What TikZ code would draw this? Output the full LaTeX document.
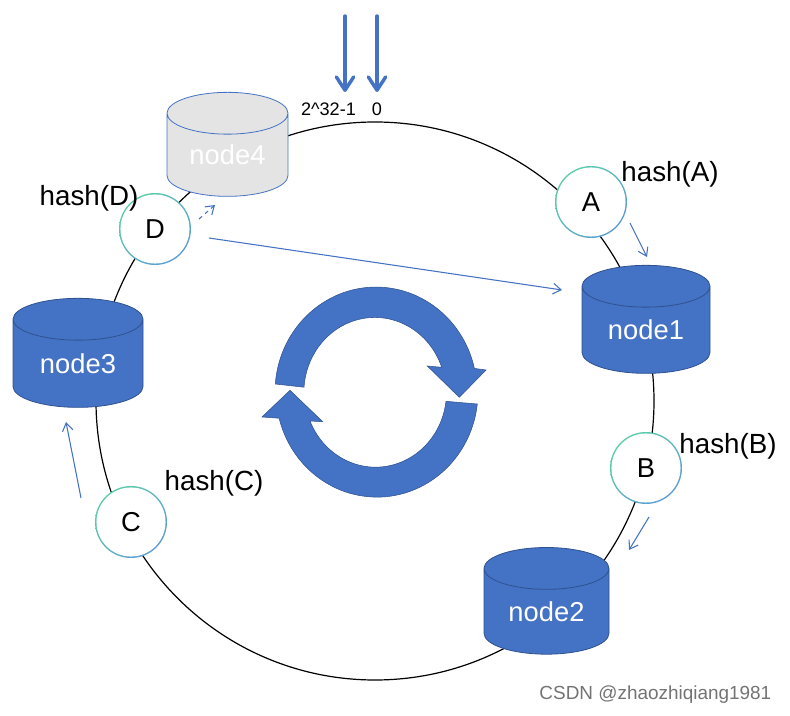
\documentclass[tikz,border=0pt]{standalone}
\usepackage{fontspec}
\setmainfont{Liberation Sans}
\usetikzlibrary{shapes.geometric,arrows.meta}
\definecolor{mblue}{HTML}{4472C4}
\definecolor{mdark}{HTML}{2F528F}
\definecolor{mgray}{HTML}{E4E4E4}
\definecolor{mteal}{HTML}{5CCDA8}
\definecolor{msky}{HTML}{5B9BD5}
\tikzset{
  px/.style={x=0.75pt,y=-0.75pt},
  drum/.style={cylinder,shape border rotate=90,shape aspect=0.55,draw=mdark,line width=0.6pt,fill=mblue,text=white,font=\fontsize{20.5}{24}\selectfont,inner sep=0pt},
  drumgray/.style={drum,draw=mblue,fill=mgray,text=white},
  hashdot/.style={circle,minimum size=54pt,inner sep=0pt,font=\fontsize{20.5}{24}\selectfont,
    path picture={
      \shade[top color=mteal,bottom color=msky,shading angle=45] (path picture bounding box.south west) rectangle (path picture bounding box.north east);
      \fill[white] (path picture bounding box.center) circle (25.9pt);
    }},
  hashlabel/.style={font=\fontsize{20.8}{24}\selectfont,text=black},
  ringline/.style={circle,draw=black,line width=0.9pt,minimum size=418.5pt,inner sep=0pt},
  thin arrow/.style={draw=mblue,line width=0.8pt,-{Straight Barb[length=6pt,width=8pt,line width=0.8pt]}},
  thick arrow/.style={draw=mblue,line width=2.6pt,line cap=round,-{Straight Barb[length=10pt,width=13pt,round]}},
  turn/.style={fill=mblue,draw=mdark,line width=0.4pt},
}
\begin{document}
\begin{tikzpicture}[px]
\useasboundingbox (0,0) rectangle (790,716);
\node[ringline] (ring) at (375,401) {};
\node[drum,minimum width=96pt,minimum height=81pt] (n1) at (646,330) {node1};
\node[drum,minimum width=93.75pt,minimum height=80pt] (n2) at (546.5,611.5) {node2};
\node[drum,minimum width=97.5pt,minimum height=81.75pt] (n3) at (78,363.5) {node3};
\node[drumgray,minimum width=90.75pt,minimum height=78pt] (n4) at (227.5,155) {node4};
\node[hashdot] (A) at (591,202) {A};
\node[hashdot] (B) at (646,468) {B};
\node[hashdot] (C) at (131,522) {C};
\node[hashdot] (D) at (155,229) {D};
\node[hashlabel] (hA) at (670,174) {hash(A)};
\node[hashlabel] (hB) at (728,446) {hash(B)};
\node[hashlabel] (hC) at (214,483) {hash(C)};
\node[hashlabel] (hD) at (89,198) {hash(D)};
\node[font=\fontsize{13.6}{15}\selectfont] (top) at (328.5,109) {2\textasciicircum 32-1};
\node[font=\fontsize{13.6}{15}\selectfont] (zero) at (377,109) {0};
\coordinate (s1) at (345,16); \coordinate (e1) at (345,92);
\coordinate (s2) at (377,16); \coordinate (e2) at (377,92);
\draw[thick arrow] (s1) -- (e1);
\draw[thick arrow] (s2) -- (e2);
\coordinate (as) at (630,223); \coordinate (ae) at (647,257);
\coordinate (bs) at (649,517); \coordinate (be) at (629,550);
\coordinate (cs) at (81,498); \coordinate (ce) at (66,422);
\coordinate (ds) at (209,238); \coordinate (de) at (562,290);
\coordinate (fs) at (199,219); \coordinate (fe) at (215,205);
\draw[thin arrow] (as) -- (ae);
\draw[thin arrow] (bs) -- (be);
\draw[thin arrow] (cs) -- (ce);
\draw[thin arrow] (ds) -- (de);
\draw[thin arrow,dashed] (fs) -- (fe);
\path[turn] (275.3,384) arc[start angle=184.4,end angle=347,x radius=101,y radius=105]
  -- (486,370) -- (459.3,397.3) -- (427.3,366) -- (441.7,367.3)
  arc[start angle=340.4,end angle=184,x radius=71,y radius=75] -- cycle;
\path[turn] (477.3,404) arc[start angle=6.5,end angle=165.6,x radius=101,y radius=105]
  -- (262,417) -- (290,390.3) -- (322.7,421.7) -- (310,421)
  arc[start angle=157.4,end angle=7,x radius=71,y radius=75] -- cycle;
\node[text=black!55,font=\fontsize{14.2}{16}\selectfont,anchor=east] (mark) at (776,695) {CSDN @zhaozhiqiang1981};
\end{tikzpicture}
\end{document}
